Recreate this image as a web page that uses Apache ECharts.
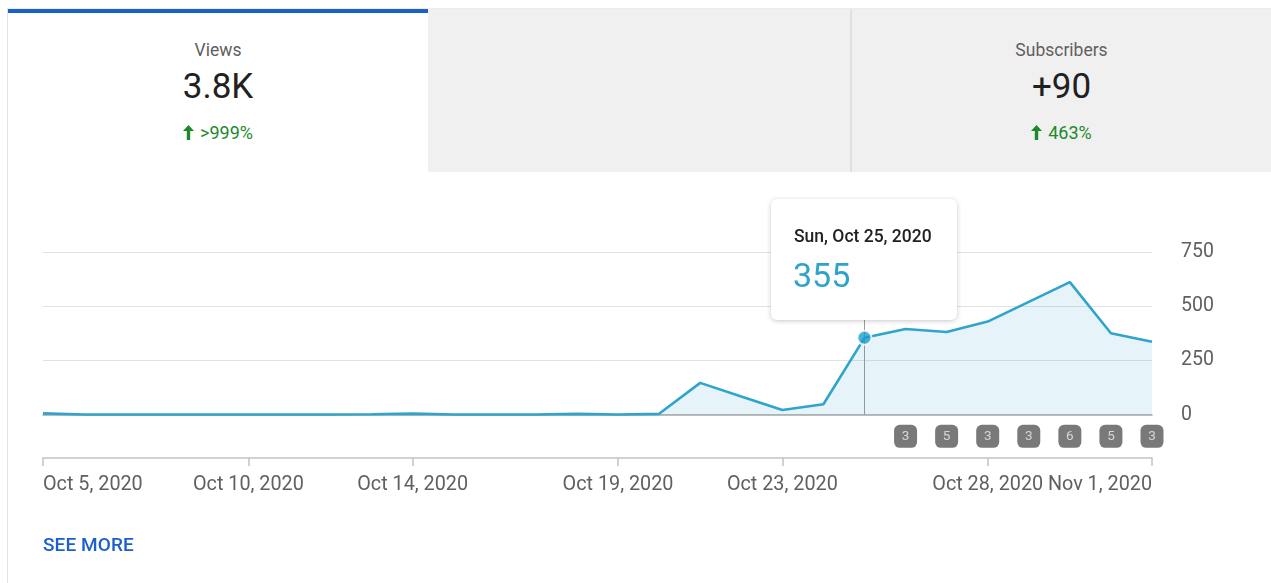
<!DOCTYPE html>
<html>
<head>
<meta charset="utf-8">
<script src="https://cdn.jsdelivr.net/npm/echarts@6/dist/echarts.min.js"></script>
<style>
  html, body { margin: 0; padding: 0; background: #fff; width: 1271px; height: 583px; overflow: hidden; font-family: Roboto, "Noto Sans", sans-serif; }
  #chart { position: absolute; left: 0; top: 0; width: 1271px; height: 583px; }
  .frame { position: absolute; left: 7px; top: 8px; right: 0; bottom: 0; border-left: 1px solid #e3e3e3; border-top: 1px solid #ececec; }
  .tab { position: absolute; top: 9px; height: 163px; }
  .tab1 { left: 8px; width: 420px; background: #fff; border-top: 4px solid #1b5fcb; top: 9px; height: 159px; }
  .tab2 { left: 428px; width: 422px; background: #f0f0f0; }
  .tab3 { left: 850px; width: 421px; background: #f0f0f0; border-left: 2px solid #e0e0e0; box-sizing: border-box; }
  .t { position: absolute; left: 0; right: 0; text-align: center; line-height: 1; white-space: nowrap; }
  .lbl { font-size: 17.5px; color: #606060; }
  .big { font-size: 35px; color: #212121; }
  .chg { font-size: 18px; color: #1c8a2c; }
  .chg svg { display: inline-block; vertical-align: -1px; margin-right: 6px; }
  .see { position: absolute; left: 43px; top: 535px; font-size: 19px; font-weight: 500; color: #1b5fcb; line-height: 1; letter-spacing: 0.1px; }
</style>
</head>
<body>
<div id="chart"></div>
<div class="frame"></div>
<div class="tab tab1">
  <div class="t lbl" style="top:29px">Views</div>
  <div class="t big" style="top:56px">3.8K</div>
  <div class="t chg" style="top:110.5px"><svg width="11" height="15" viewBox="0 0 11 15"><path d="M5.5 0 L11 6 L7.2 6 L7.2 15 L3.8 15 L3.8 6 L0 6 Z" fill="#1c8a2c"/></svg>&gt;999%</div>
</div>
<div class="tab tab2"></div>
<div class="tab tab3">
  <div class="t lbl" style="top:33px">Subscribers</div>
  <div class="t big" style="top:60px">+90</div>
  <div class="t chg" style="top:114.5px"><svg width="11" height="15" viewBox="0 0 11 15"><path d="M5.5 0 L11 6 L7.2 6 L7.2 15 L3.8 15 L3.8 6 L0 6 Z" fill="#1c8a2c"/></svg>463%</div>
</div>
<div class="see">SEE MORE</div>
<script>
// ---- data ----
const dates = [
  '2020-10-05','2020-10-06','2020-10-07','2020-10-08','2020-10-09','2020-10-10','2020-10-11',
  '2020-10-12','2020-10-13','2020-10-14','2020-10-15','2020-10-16','2020-10-17','2020-10-18',
  '2020-10-19','2020-10-20','2020-10-21','2020-10-22','2020-10-23','2020-10-24','2020-10-25',
  '2020-10-26','2020-10-27','2020-10-28','2020-10-29','2020-10-30','2020-10-31','2020-11-01'
];
const views = [
  6, 1, 1, 1, 1, 1, 1,
  1, 2, 5, 1, 1, 1, 4,
  1, 4, 147, 84, 22, 48, 355,
  396, 382, 430, 521, 612, 376, 337
];
const tickDates = ['2020-10-05','2020-10-10','2020-10-14','2020-10-19','2020-10-23','2020-10-28','2020-11-01'];
const yTicks = [0, 250, 500, 750];
const badgeDates = ['2020-10-26','2020-10-27','2020-10-28','2020-10-29','2020-10-30','2020-10-31','2020-11-01'];
const badgeCounts = [3, 5, 3, 3, 6, 5, 3];
const focusDate = '2020-10-25';

// ---- helpers ----
function fmtShort(d) {
  return new Date(d + 'T00:00:00Z').toLocaleDateString('en-US', { month: 'short', day: 'numeric', year: 'numeric', timeZone: 'UTC' });
}
function fmtLong(d) {
  return new Date(d + 'T00:00:00Z').toLocaleDateString('en-US', { weekday: 'short', month: 'short', day: 'numeric', year: 'numeric', timeZone: 'UTC' });
}
const focusIdx = dates.indexOf(focusDate);
const tickSet = new Set(tickDates.map(d => dates.indexOf(d)));
const showTick = (i) => tickSet.has(i);

const chart = echarts.init(document.getElementById('chart'), null, { renderer: 'canvas' });
const FONT = 'Roboto';

const option = {
  animation: false,
  grid: [
    { left: 43, right: 119, top: 252.3, bottom: 168.3 },
    { left: 43, right: 119, top: 425, height: 22.7 }
  ],
  xAxis: [
    {
      gridIndex: 0, type: 'category', data: dates, boundaryGap: false,
      axisLine: { show: true, lineStyle: { color: '#a8a8a8', width: 1.5 } },
      axisTick: { show: false }, axisLabel: { show: false }, splitLine: { show: false }
    },
    {
      gridIndex: 1, type: 'category', data: dates, boundaryGap: false, offset: 10.3,
      axisLine: { show: true, lineStyle: { color: '#c4c4c4', width: 1.5 } },
      axisTick: { show: true, interval: (i) => showTick(i), length: 8, lineStyle: { color: '#c4c4c4', width: 1.5 } },
      axisLabel: {
        show: true, interval: (i) => showTick(i), formatter: (v) => fmtShort(v),
        color: '#606060', fontFamily: FONT, fontSize: 19.8, margin: 17,
        alignMinLabel: 'left', alignMaxLabel: 'right', hideOverlap: false
      },
      splitLine: { show: false }
    }
  ],
  yAxis: [
    {
      gridIndex: 0, type: 'value', position: 'right', min: yTicks[0], max: yTicks[yTicks.length - 1], interval: yTicks[1] - yTicks[0],
      axisLine: { show: false }, axisTick: { show: false },
      axisLabel: { color: '#606060', fontFamily: FONT, fontSize: 19.5, margin: 29, padding: [4, 0, 0, 0] },
      splitLine: { show: true, lineStyle: { color: '#e2e2e2', width: 1 } }
    },
    {
      gridIndex: 1, type: 'category', data: [''], show: false
    }
  ],
  tooltip: {
    trigger: 'axis', triggerOn: 'none', alwaysShowContent: true, transitionDuration: 0,
    showContent: true,
    axisPointer: { type: 'line', snap: true, lineStyle: { color: '#9a9a9a', width: 1, type: 'solid' }, z: 1 },
    position: [771, 199],
    padding: 0, borderWidth: 0, backgroundColor: '#fff',
    extraCssText: 'box-shadow:0 1px 5px rgba(0,0,0,0.22);border-radius:6px;',
    formatter: (params) => {
      const p = params.find(q => q.seriesIndex === 0) || params[0];
      const d = dates[p.dataIndex];
      return '<div style="position:relative;width:186px;height:121px;font-family:Roboto;">' +
        '<div style="position:absolute;left:23px;top:28.7px;font-size:17.5px;font-weight:500;color:#212121;line-height:1;white-space:nowrap;">' + fmtLong(d) + '</div>' +
        '<div style="position:absolute;left:22px;top:58.8px;font-size:34px;color:#2fa3cc;line-height:1;">' + views[p.dataIndex] + '</div>' +
        '</div>';
    }
  },
  series: [
    {
      name: 'Views', type: 'line', xAxisIndex: 0, yAxisIndex: 0,
      data: views, symbol: 'none', smooth: false,
      lineStyle: { color: '#2fa4cc', width: 2.6 },
      areaStyle: { color: '#2fa4cc', opacity: 0.12 },
      emphasis: { disabled: true }, z: 3
    },
    {
      name: 'focus', type: 'scatter', xAxisIndex: 0, yAxisIndex: 0,
      data: [[focusIdx, views[focusIdx]]],
      symbol: 'circle', symbolSize: 14,
      itemStyle: { color: '#1c9dcb', borderColor: '#fff', borderWidth: 2 },
      emphasis: { disabled: true }, z: 5, tooltip: { show: false }
    },
    {
      name: 'videos', type: 'scatter', xAxisIndex: 1, yAxisIndex: 1,
      data: badgeDates.map((d, i) => [dates.indexOf(d), 0, badgeCounts[i]]),
      symbol: 'roundRect', symbolSize: [23, 23],
      itemStyle: { color: '#585858' },
      label: { show: true, position: 'inside', formatter: (p) => String(p.value[2]), color: '#ececec', fontFamily: FONT, fontSize: 13.5 },
      emphasis: { disabled: true }, tooltip: { show: false }
    }
  ]
};
chart.setOption(option);
chart.dispatchAction({ type: 'showTip', seriesIndex: 0, dataIndex: focusIdx });
setTimeout(() => chart.dispatchAction({ type: 'showTip', seriesIndex: 0, dataIndex: focusIdx }), 50);
</script>
</body>
</html>
